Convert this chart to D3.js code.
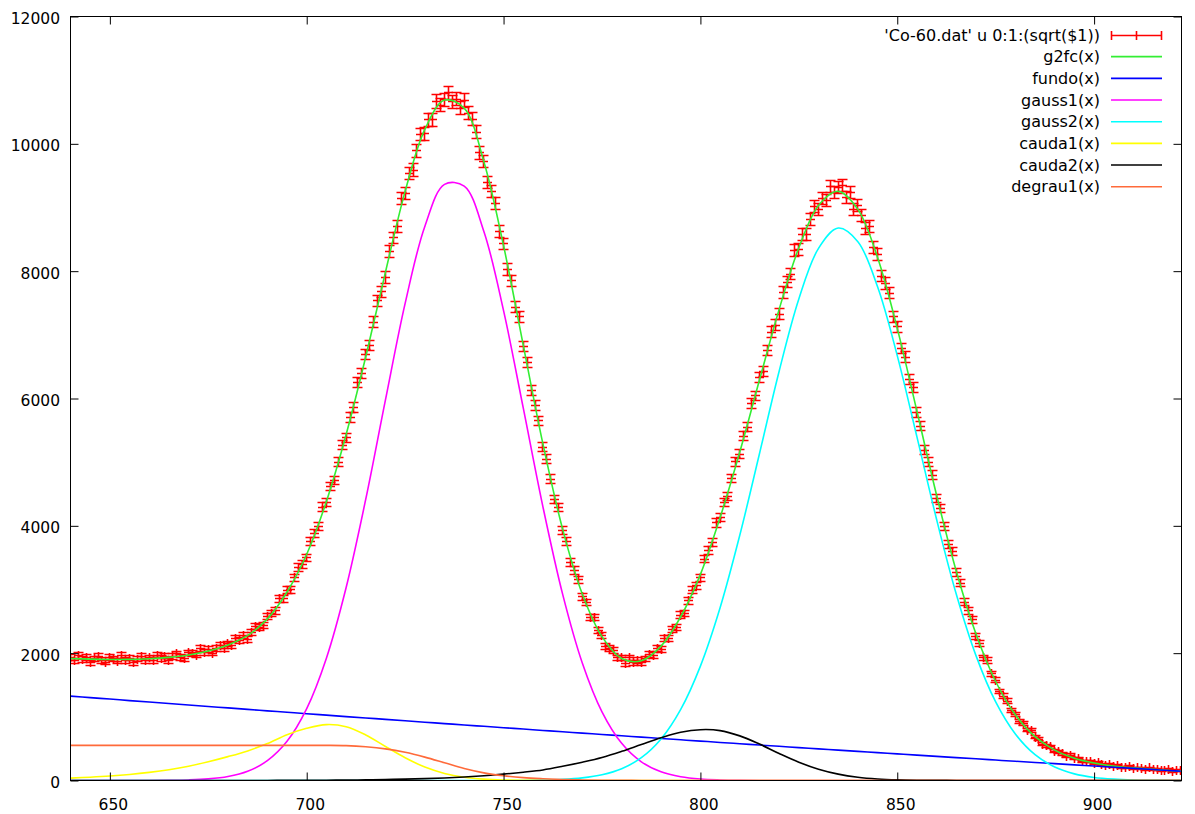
<!DOCTYPE html>
<html><head><meta charset="utf-8">
<script src="https://cdn.jsdelivr.net/npm/d3@7"></script>
<style>
body{margin:0;background:#fff;}
svg{display:block;}
text{font-family:"DejaVu Sans",Verdana,sans-serif;fill:#000;}
</style>
</head><body>
<svg id="c" width="1195" height="814"></svg>
<script>
// ---- data ----
const channelStart = 640;
const counts = [
1929,1879,1960,1901,1934,1849,1909,1944,1881,1858,
1932,1910,1875,1962,1889,1924,1856,1906,1943,1879,
1926,1882,1969,1916,1955,1877,1945,1988,1934,1920,
2003,1993,1969,2072,2009,2057,2002,2070,2126,2077,
2144,2119,2237,2206,2274,2218,2330,2418,2401,2431,
2572,2625,2663,2852,2851,2987,2994,3185,3348,3393,
3496,3754,3883,3995,4294,4364,4619,4710,4995,5266,
5382,5699,5859,6252,6388,6695,6830,7201,7535,7679,
7899,8311,8521,8699,9135,9225,9530,9586,9892,10147,
10157,10381,10378,10665,10607,10690,10800,10660,10700,10560,
10680,10480,10390,10180,9860,9720,9395,9250,9056,8628,
8428,8025,7851,7433,7281,6813,6561,6122,5895,5649,
5233,5046,4734,4413,4287,3928,3753,3425,3296,3151,
2887,2794,2561,2560,2352,2284,2100,2075,2045,1925,
1925,1838,1926,1847,1885,1846,1910,1984,1964,2071,
2062,2229,2236,2367,2398,2596,2623,2823,2990,3055,
3182,3479,3616,3740,4045,4126,4371,4462,4743,5008,
5125,5408,5549,5919,6040,6331,6422,6750,7043,7150,
7327,7666,7827,7952,8320,8340,8579,8580,8817,9009,
8966,9145,9105,9333,9233,9312,9350,9155,9233,8973,
9038,8875,8667,8700,8374,8263,7922,7807,7651,7284,
7127,6788,6650,6293,6180,5776,5567,5187,4999,4796,
4430,4270,3992,3706,3598,3267,3099,2798,2666,2522,
2265,2155,1926,1885,1673,1575,1399,1323,1245,1097,
1042,930,899,791,785,681,649,566,549,528,
461,452,421,380,398,344,341,296,301,301,
262,275,258,237,258,225,231,201,209,215,
188,197,189,173,197,171,178,152,162,168,
145,160,150];

// function sample positions (channels)
const fnX = [640,645,650,655,660,665,670,675,680,685,690,695,700,705,710,715,720,725,730,735,
740,745,750,755,760,765,770,775,780,785,790,795,800,805,810,815,820,825,830,835,
840,845,850,855,860,865,870,875,880,885,890,895,900,905,910,915,920,922];

const g2fc = [1916,1906,1901,1902,1913,1934,1972,2035,2130,2279,
2538,2961,3553,4383,5431,6656,7985,9253,10226,10687,
10560,9720,8400,6839,5287,3948,2928,2259,1915,1880,
2110,2572,3237,4130,5160,6290,7400,8367,9032,9254,
8971,8216,7102,5800,4480,3286,2302,1555,1032,689,
477,350,275,229,198,175,154,147];
const fundo = [1326,1302,1279,1255,1232,1209,1186,1163,1140,1117,
1094,1072,1049,1027,1004,982,960,938,916,894,
872,851,829,808,786,765,744,723,702,681,
660,639,619,598,578,557,537,517,497,477,
457,438,418,399,379,360,341,321,302,283,
265,246,227,208,190,172,153,146];
const gauss1 = [0,0,0,0,1,3,9,25,63,145,
311,615,1129,1921,3027,4419,5978,7494,8703,9364,
9336,8624,7380,5852,4299,2927,1846,1079,584,293,
136,59,23,9,3,1,0,0,0,0,
0,0,0,0,0,0,0,0,0,0,
0,0,0,0,0,0,0,0];
const gauss2 = [0,0,0,0,0,0,0,0,0,0,
0,0,0,0,0,0,0,0,0,0,
0,0,0,1,7,17,41,90,185,358,
652,1117,1797,2713,3851,5133,6429,7563,8358,8677,
8463,7754,6674,5397,4099,2925,1961,1234,730,406,
212,104,48,21,8,3,1,1];
const cauda1 = [38,52,70,95,128,170,225,295,375,465,
580,720,820,878,845,715,535,357,211,111,
52,22,8,3,1,0,0,0,0,0,
0,0,0,0,0,0,0,0,0,0,
0,0,0,0,0,0,0,0,0,0,
0,0,0,0,0,0,0,0];
const cauda2 = [0,0,0,0,0,0,0,0,0,0,
1,2,3,5,7,10,15,21,29,40,
55,75,100,130,166,223,288,362,458,565,
670,757,798,784,701,572,424,287,177,100,
51,24,10,4,2,1,0,0,0,0,
0,0,0,0,0,0,0,0];
const degrau1 = [552,552,552,552,552,552,552,552,552,552,
552,552,552,552,548,530,497,443,367,278,
188,120,75,45,28,16,9,5,2,1,
0,0,0,0,0,0,0,0,0,0,
0,0,0,0,0,0,0,0,0,0,
0,0,0,0,0,0,0,0];

const xTicks = [650,700,750,800,850,900];
const yTicks = [0,2000,4000,6000,8000,10000,12000];
const legendLabels = ["'Co-60.dat' u 0:1:(sqrt($1))","g2fc(x)","fundo(x)","gauss1(x)","gauss2(x)","cauda1(x)","cauda2(x)","degrau1(x)"];
const legendColors = ["#ff0000","#33ee33","#0000ff","#ff00ff","#00ffff","#ffff00","#000000","#ff6a3a"];

// ---- drawing ----
const W = 1195, H = 814;
const L = 70.5, R = 1181.5, T = 16.5, B = 780.5;
const x = d3.scaleLinear().domain([640, 922.2]).range([L, R]);
const y = d3.scaleLinear().domain([0, 12000]).range([B, T]);
const svg = d3.select('#c');
svg.append('rect').attr('width', W).attr('height', H).attr('fill', '#fff');
svg.append('clipPath').attr('id', 'clip').append('rect')
  .attr('x', L).attr('y', T).attr('width', R - L).attr('height', B - T);
const plot = svg.append('g').attr('clip-path', 'url(#clip)');

// data with error bars
const snap = v => Math.round(v - 0.5) + 0.5;
const pts = counts.map((v, i) => ({c: channelStart + i, v}));
plot.append('g').attr('fill', 'none').attr('stroke', legendColors[0]).attr('stroke-width', 1.6)
  .selectAll('path').data(pts).join('path')
  .attr('d', p => {
    const px = snap(x(p.c)), e = Math.sqrt(p.v);
    const y1 = snap(y(p.v + e)), y0 = snap(y(p.v - e)), yc = snap(y(p.v));
    return `M${px},${y0}V${y1}M${px-5},${y1}H${px+5}M${px-5},${y0}H${px+5}M${px-4.5},${yc}H${px+4.5}M${px},${yc-4.5}V${yc+4.5}`;
  });

const series = [g2fc, fundo, gauss1, gauss2, cauda1, cauda2, degrau1];
const line = d3.line().x(d => x(d[0])).y(d => y(d[1])).curve(d3.curveCatmullRom);
series.forEach((s, k) => {
  plot.append('path').datum(fnX.map((xx, i) => [xx, s[i]]))
    .attr('fill', 'none').attr('stroke', legendColors[k + 1]).attr('stroke-width', 1.6)
    .attr('d', line);
});

// axes
const styleAxis = g => { g.select('.domain').remove(); g.selectAll('line').attr('stroke', '#000'); };
const fs = '15.5px';
const fam = '"DejaVu Sans",Verdana,sans-serif';
svg.append('g').attr('transform', `translate(0,${B})`)
  .call(d3.axisBottom(x).tickValues(xTicks).tickSize(-8).tickPadding(18.5).tickFormat(d3.format('d')))
  .call(styleAxis)
  .call(g => g.selectAll('text').attr('font-size', fs).attr('dx', 3).attr('font-family', fam).attr('fill', '#000'));
svg.append('g').attr('transform', `translate(${L},0)`)
  .call(d3.axisLeft(y).tickValues(yTicks).tickSize(-8).tickPadding(10.5).tickFormat(d3.format('d')))
  .call(styleAxis)
  .call(g => g.selectAll('text').attr('font-size', fs).attr('dy', '0.45em').attr('font-family', fam).attr('fill', '#000'));
svg.append('g').attr('transform', `translate(0,${T})`)
  .call(d3.axisTop(x).tickValues(xTicks).tickSize(-8).tickFormat(''))
  .call(styleAxis);
svg.append('g').attr('transform', `translate(${R},0)`)
  .call(d3.axisRight(y).tickValues(yTicks).tickSize(-8).tickFormat(''))
  .call(styleAxis);

svg.append('rect').attr('x', L).attr('y', T).attr('width', R - L).attr('height', B - T)
  .attr('fill', 'none').attr('stroke', '#000').attr('stroke-width', 1).attr('shape-rendering', 'crispEdges');

// legend
const lg = svg.append('g');
legendLabels.forEach((lab, i) => {
  const ry = 35 + i * 21.67;
  lg.append('text').attr('x', 1100).attr('y', ry + 5.5).attr('text-anchor', 'end')
    .attr('font-size', '16px').text(lab);
  const col = legendColors[i];
  if (i === 0) {
    const yy = snap(ry);
    lg.append('path').attr('fill', 'none').attr('stroke', col).attr('stroke-width', 1.6)
      .attr('d', `M1111.5,${yy}H1161.5M1111.5,${yy-4.5}V${yy+4.5}M1161.5,${yy-4.5}V${yy+4.5}M1136.5,${yy-4.5}V${yy+4.5}`);
  } else {
    lg.append('line').attr('x1', 1111).attr('x2', 1162).attr('y1', ry).attr('y2', ry)
      .attr('stroke', col).attr('stroke-width', 1.6);
  }
});
</script>
</body></html>
